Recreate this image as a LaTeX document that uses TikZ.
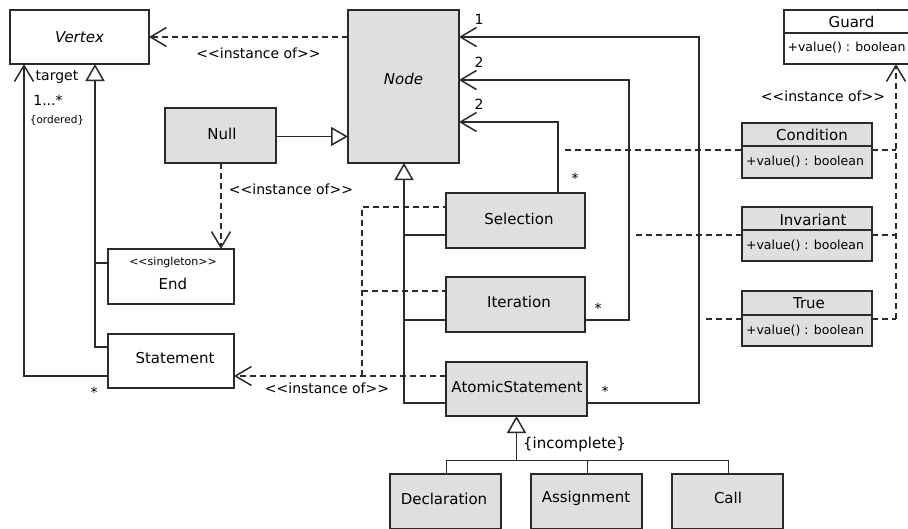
\documentclass[tikz,border=0pt]{standalone}
\usepackage{fontspec}
\setmainfont{DejaVu Sans}[Ligatures=TeXOff]
\usetikzlibrary{arrows.meta,calc}
\definecolor{lc}{HTML}{2A2A2A}
\definecolor{gfill}{HTML}{DFDFDF}
\newcommand\fsz[1]{\fontsize{#1}{#1}\selectfont}
\begin{document}
\begin{tikzpicture}[x=1pt,y=-1pt,
  box/.style={draw=lc, line width=1.5pt, fill=white, inner sep=0pt, outer sep=0pt, font=\fsz{15}},
  gbox/.style={box, fill=gfill},
  txt/.style={inner sep=0pt, outer sep=0pt, font=\fsz{15}},
  smalltxt/.style={inner sep=0pt, outer sep=0pt, font=\fsz{12.5}},
  lbl/.style={inner sep=0pt, outer sep=0pt, font=\fsz{14}},
  con/.style={draw=lc, line width=1.5pt},
  dsh/.style={con, dash pattern=on 6pt off 4pt},
  gen/.style={con, -{Triangle[open, length=17pt, width=19pt, fill=white]}},
  barb/.style={-{Straight Barb[length=16pt, width=19pt]}},
]
\useasboundingbox (0,0) rectangle (908,528);
\clip (0,0) rectangle (908,528);

% ---------- classes ----------
\node[box, minimum width=139pt, minimum height=54pt] (vertex) at (79.5,37) {\itshape Vertex};
\node[gbox, minimum width=111pt, minimum height=153pt] (node) at (403.5,86.5) {};
\node[txt] (nodet) at (403.5,79) {\itshape Node};
\node[gbox, minimum width=111pt, minimum height=55pt] (null) at (220.5,135.5) {};
\node[txt] (nullt) at (222,134) {Null};
\node[box, minimum width=126pt, minimum height=55pt] (end) at (171,276.5) {};
\node[inner sep=0pt, font=\fsz{11}] (endst) at (173,262) {<<singleton>>};
\node[txt] (endt) at (173,284) {End};
\node[box, minimum width=126pt, minimum height=54pt] (stmt) at (171,361) {};
\node[txt] (stmtt) at (175,358) {Statement};

\node[gbox, minimum width=139pt, minimum height=55pt] (sel) at (515.5,220.5) {};
\node[txt] (selt) at (519,219) {Selection};
\node[gbox, minimum width=139pt, minimum height=55pt] (it) at (515.5,304.5) {};
\node[txt] (itt) at (519,302) {Iteration};
\node[gbox, minimum width=141pt, minimum height=54pt] (at) at (516.5,389) {};
\node[txt] (att) at (517,387) {AtomicStatement};

\node[gbox, minimum width=111pt, minimum height=55pt] (decl) at (445.5,501.5) {};
\node[txt] (declt) at (444,499) {Declaration};
\node[gbox, minimum width=111pt, minimum height=55pt] (assig) at (586.5,501.5) {};
\node[txt] (assigt) at (586,498) {Assignment};
\node[gbox, minimum width=111pt, minimum height=55pt] (call) at (727.5,501.5) {};
\node[txt] (callt) at (728,498) {Call};

\node[box, minimum width=135pt, minimum height=54pt] (guard) at (851.5,37) {};
\node[txt] (guardt) at (851.5,21.5) {Guard};
\node[smalltxt] (guardb) at (846.5,48) {+value() : boolean};
\draw[lc, line width=1.6pt] ($(guard.north west)+(0,23)$) -- ($(guard.north east)+(0,23)$);

\node[gbox, minimum width=130pt, minimum height=55pt] (cond) at (807,150.5) {};
\node[txt] (condt) at (812,135) {Condition};
\node[smalltxt] (condb) at (805,162) {+value() : boolean};
\draw[lc, line width=1.8pt] ($(cond.north west)+(0,23)$) -- ($(cond.north east)+(0,23)$);

\node[gbox, minimum width=130pt, minimum height=54pt] (inv) at (807,234) {};
\node[txt] (invt) at (813,219.5) {Invariant};
\node[smalltxt] (invb) at (805,246) {+value() : boolean};
\draw[lc, line width=1.8pt] ($(inv.north west)+(0,23)$) -- ($(inv.north east)+(0,23)$);

\node[gbox, minimum width=130pt, minimum height=55pt] (tru) at (807,318.5) {};
\node[txt] (trut) at (809,303.5) {True};
\node[smalltxt] (trub) at (805,330.5) {+value() : boolean};
\draw[lc, line width=1.8pt] ($(tru.north west)+(0,24)$) -- ($(tru.north east)+(0,24)$);

% thick top edges and left ticks
\foreach \n in {vertex,node,null,end,stmt,sel,it,at,decl,assig,call,cond,inv,tru}
  \draw[lc, line width=2.6pt] (\n.north west) -- (\n.north east);
\foreach \n in {vertex,node,null,end,stmt,sel,it,at,decl,assig,call}
  \draw[lc, line width=2.4pt] (\n.north west) -- ++(0,22);

% ---------- connectors ----------
% Node -> Vertex instance of
\coordinate (vi) at (348,37);
\draw[dsh, barb] (vi -| node.west) -- (vi -| vertex.east);
\node[lbl] (lvi) at (258.5,53) {<<instance of>>};

% Null generalization to Node
\coordinate (nl) at (276,136.5);
\draw[gen] (nl -| null.east) -- (nl -| node.west);

% Null instance of End
\coordinate (ni) at (221,200);
\draw[dsh, barb] (ni |- null.south) -- (ni |- end.north);
\node[lbl] (lni) at (291,189) {<<instance of>>};

% Statement association to Vertex
\coordinate (v1) at (24,376);
\draw[con, barb] (v1 -| stmt.west) -- (v1) -- (v1 |- vertex.south);
\node[lbl] (ltarget) at (57,77) {target};
\node[lbl] (lmult) at (48,100) {1...*};
\node[inner sep=0pt, font=\fsz{10.5}] (lord) at (57,120) {\{ordered\}};
\node[lbl] (lstar0) at (94,392) {*};

% generalization to Vertex
\coordinate (v2) at (95,347);
\coordinate (v3) at (95,263);
\draw[gen] (v2 -| stmt.west) -- (v2) -- (v2 |- vertex.south);
\draw[con] (v3) -- (v3 -| end.west);

% instance of Statement
\coordinate (s1) at (362,376);
\coordinate (s2) at (362,207);
\coordinate (s3) at (362,291);
\draw[dsh, barb] (s1 -| at.west) -- (s1 -| stmt.east);
\draw[dsh] (s1) -- (s2) -- (s2 -| sel.west);
\draw[dsh] (s3) -- (s3 -| it.west);
\node[lbl] (lsi) at (327,388) {<<instance of>>};

% generalization to Node
\coordinate (g1) at (404,403);
\coordinate (g1s) at (404,235);
\coordinate (g1i) at (404,320);
\draw[gen] (g1 -| at.west) -- (g1) -- (g1 |- node.south);
\draw[con] (g1s) -- (g1s -| sel.west);
\draw[con] (g1i) -- (g1i -| it.west);

% associations to Node
\coordinate (a1) at (558,122);
\draw[con, barb] (a1 |- sel.north) -- (a1) -- (a1 -| node.east);
\coordinate (a2) at (629,80);
\coordinate (a2b) at (629,320);
\draw[con, barb] (a2b -| it.east) -- (a2b) -- (a2) -- (a2 -| node.east);
\coordinate (a3) at (699,37);
\coordinate (a3b) at (699,403);
\draw[con, barb] (a3b -| at.east) -- (a3b) -- (a3) -- (a3 -| node.east);
\node[lbl] (m1) at (479,19) {1};
\node[lbl] (m2) at (479,62) {2};
\node[lbl] (m3) at (479,104) {2};
\node[lbl] (st1) at (575,178) {*};
\node[lbl] (st2) at (598,308) {*};
\node[lbl] (st3) at (605,391) {*};

% association classes and Guard
\coordinate (gd) at (896,319);
\draw[dsh, barb] (gd) -- (gd |- guard.south);
\node[lbl] (lgi) at (823,96) {<<instance of>>};
\coordinate (c1) at (565,150);
\draw[dsh] (c1) -- (c1 -| cond.west);
\draw[dsh] (c1 -| cond.east) -- (c1 -| gd);
\coordinate (c2) at (636,235);
\draw[dsh] (c2) -- (c2 -| inv.west);
\draw[dsh] (c2 -| inv.east) -- (c2 -| gd);
\coordinate (c3) at (706,319);
\draw[dsh] (c3) -- (c3 -| tru.west);
\draw[dsh] (c3 -| tru.east) -- (gd);

% AtomicStatement generalization
\coordinate (h) at (516.5,460.5);
\coordinate (hd) at (446.5,470);
\coordinate (ha) at (587.5,470);
\coordinate (hc) at (728.5,470);
\draw[gen] (h) -- (h |- at.south);
\draw[con] (hd |- decl.north) |- (hc |- h) -- (hc |- call.north);
\draw[con] (ha |- assig.north) -- (ha |- h);
\node[txt] (linc) at (574.5,444) {\{incomplete\}};
\end{tikzpicture}
\end{document}
